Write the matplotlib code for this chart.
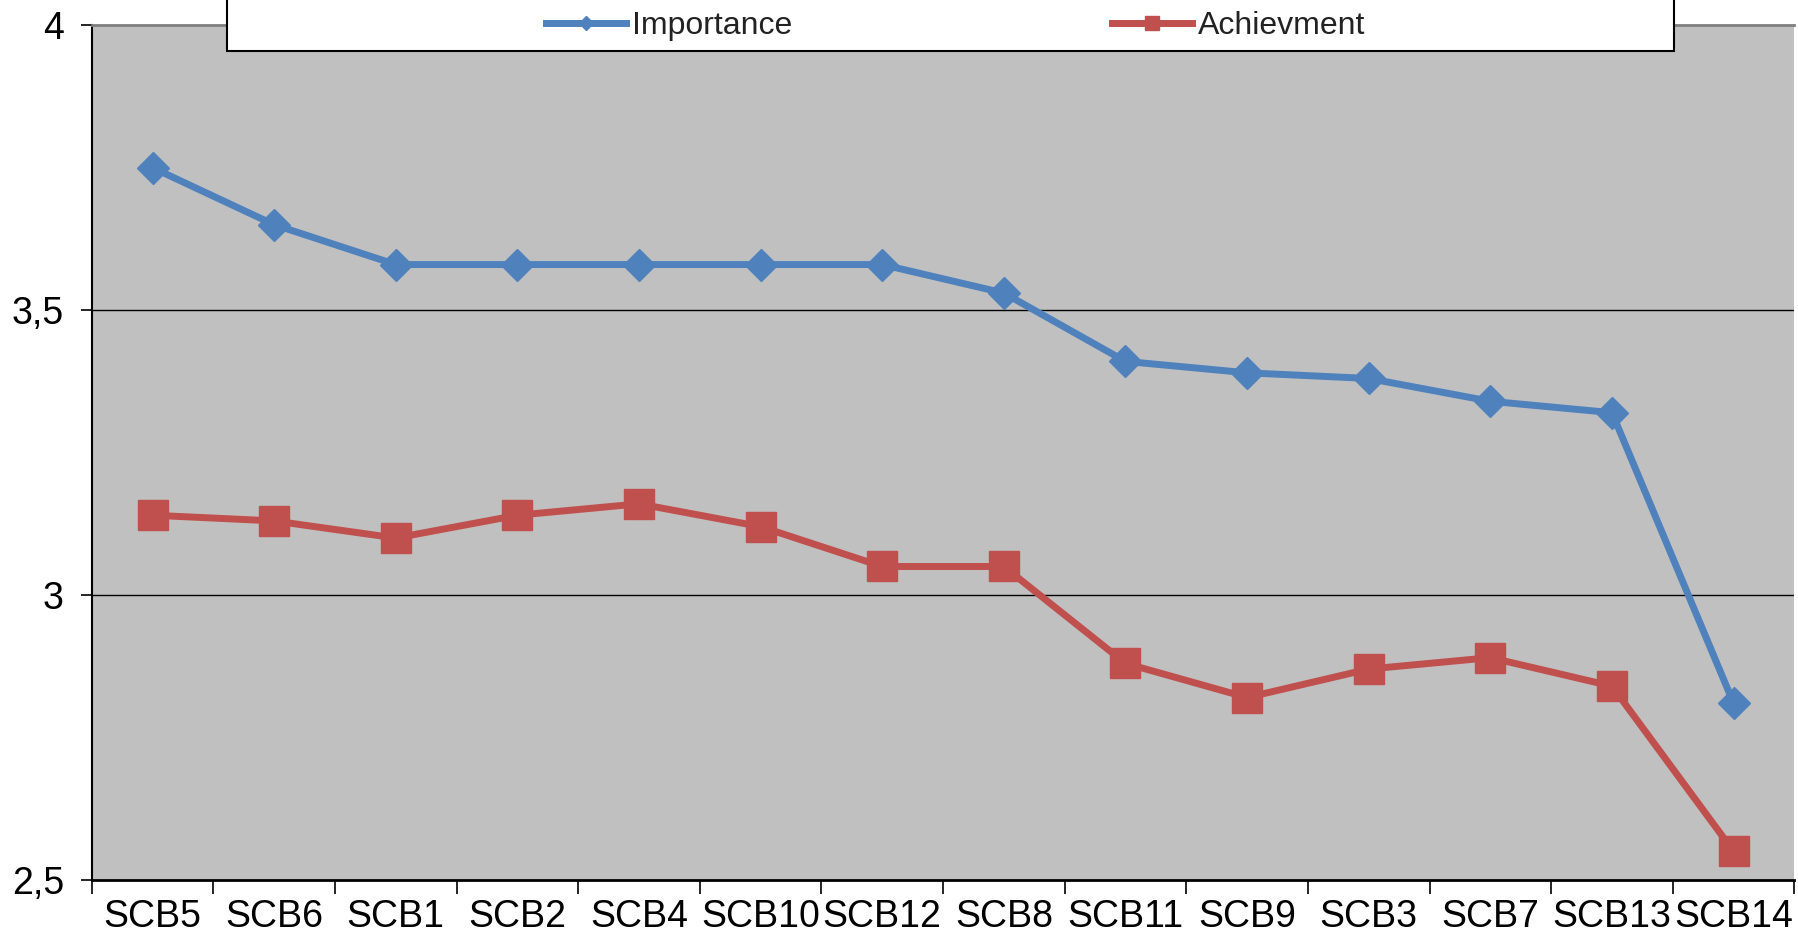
import numpy as np
import matplotlib.pyplot as plt
from matplotlib.patches import Rectangle

plt.rcParams['font.family'] = ['Liberation Sans', 'DejaVu Sans']

# Daten
categories = ['SCB5', 'SCB6', 'SCB1', 'SCB2', 'SCB4', 'SCB10', 'SCB12',
              'SCB8', 'SCB11', 'SCB9', 'SCB3', 'SCB7', 'SCB13', 'SCB14']
importance = [3.75, 3.65, 3.58, 3.58, 3.58, 3.58, 3.58,
              3.53, 3.41, 3.39, 3.38, 3.34, 3.32, 2.81]
achievement = [3.14, 3.13, 3.10, 3.14, 3.16, 3.12, 3.05,
               3.05, 2.88, 2.82, 2.87, 2.89, 2.84, 2.55]
yticks = [2.5, 3.0, 3.5, 4.0]
ytick_labels = ['2,5', '3', '3,5', '4']

blue = '#4F81BD'
red = '#C0504D'

fig = plt.figure(figsize=(17.98, 9.36), dpi=100)
ax = fig.add_axes([0.051, 0.060, 0.947, 0.913])
ax.set_facecolor('#C0C0C0')

x = np.arange(len(categories))
ax.plot(x, importance, color=blue, lw=5, marker='D', ms=16, label='Importance', zorder=3)
ax.plot(x, achievement, color=red, lw=5, marker='s', ms=22, label='Achievment', zorder=3)

ax.set_xlim(-0.5, len(categories) - 0.5)
ax.set_ylim(2.5, 4.0)

# Gitterlinien
for y in yticks[1:3]:
    ax.axhline(y, color='black', lw=1, zorder=1)

ax.set_yticks(yticks)
ax.set_yticklabels(ytick_labels, fontsize=27)
ax.set_xticks(x)
ax.set_xticklabels(categories, fontsize=27)
ax.tick_params(axis='x', which='major', length=0, pad=14)
ax.set_xticks(np.arange(-0.5, len(categories)), minor=True)
ax.tick_params(axis='x', which='minor', length=10, width=1.2, direction='out')
ax.tick_params(axis='y', length=8, width=1.2, direction='out', pad=12)

ax.spines['left'].set_linewidth(1.5)
ax.spines['bottom'].set_linewidth(2)
ax.spines['top'].set_color('#7F7F7F')
ax.spines['top'].set_linewidth(2)
ax.spines['right'].set_visible(False)

# Legende oben mit weissem Kasten (oben abgeschnitten)
fig.patches.append(Rectangle((227 / 1798, 1 - 51 / 936), (1674 - 227) / 1798, 80 / 936,
                             transform=fig.transFigure, facecolor='white',
                             edgecolor='black', lw=1.5, zorder=5))
leg = fig.legend(loc='center', bbox_to_anchor=(956 / 1798, 1 - 26 / 936), ncol=2,
                 frameon=False, fontsize=23, handlelength=2.5, handletextpad=0.2,
                 columnspacing=10, markerscale=0.45)
for t in leg.get_texts():
    t.set_color('#222222')
leg.set_zorder(6)

plt.savefig('out.png', dpi=100)
